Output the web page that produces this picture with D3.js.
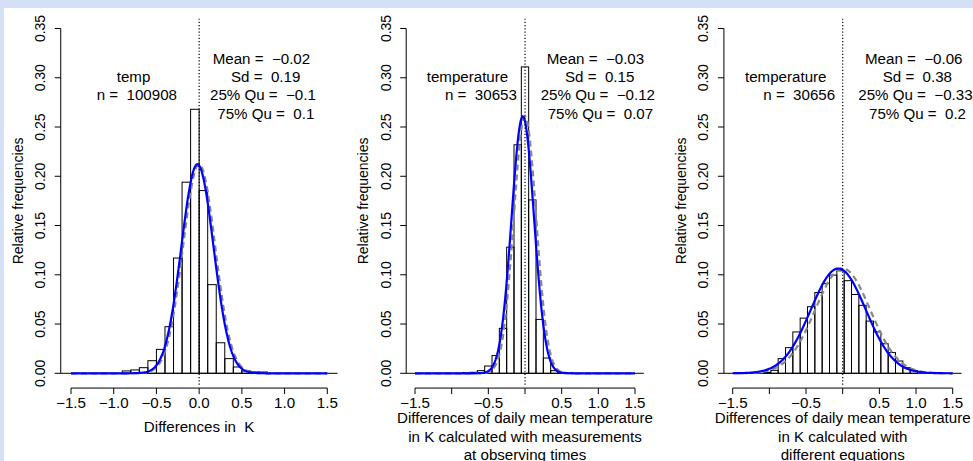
<!DOCTYPE html>
<html>
<head>
<meta charset="utf-8">
<script src="https://cdn.jsdelivr.net/npm/d3@7"></script>
<style>
  body { margin: 0; background: #d4e0f6; }
  svg text { font-family: "Liberation Sans", Arial, sans-serif; font-size: 14px; fill: #000; white-space: pre; }
</style>
</head>
<body>
<svg id="chart" width="973" height="461"></svg>
<script>
// ---- data ----
const xTicks = [-1.5, -1.0, -0.5, 0.0, 0.5, 1.0, 1.5];
const xTicksSparse = [-1.5, -0.5, 0.5, 1.0, 1.5]; // R dropped overlapping labels
const yTicks = [0, 0.05, 0.10, 0.15, 0.20, 0.25, 0.30, 0.35];
const binWidth = 0.1;

// relative frequencies per bin, first break given separately
const freqTemp  = [0.0024, 0.0034, 0.0057, 0.0128, 0.0243, 0.0473, 0.117, 0.194, 0.268,
                   0.1855, 0.090, 0.031, 0.0149, 0.0064, 0.0024, 0.0014, 0.0013];
const freqObs   = [0.0007, 0.001, 0.0027, 0.0074, 0.018, 0.0456, 0.128, 0.232, 0.311,
                   0.176, 0.0547, 0.0155, 0.0027, 0.001, 0.0007];
const freqEqu   = [0.001, 0.003, 0.0149, 0.026, 0.042, 0.056, 0.0676, 0.082, 0.091, 0.0997,
                   0.104, 0.094, 0.080, 0.069, 0.053, 0.042, 0.030, 0.021, 0.0125, 0.0057, 0.0027];
const firstBreaks = [-0.9, -0.85, -1.08];

const varNames = ["temp", "temperature", "temperature"];
const counts   = [100908, 30653, 30656];
const means    = [-0.02, -0.03, -0.06];
const sds      = [0.19, 0.15, 0.38];
const fitSds   = [0.188, 0.153, 0.375]; // unrounded sd
const qu25     = [-0.1, -0.12, -0.33];
const qu75     = [0.1, 0.07, 0.2];
const xTitles  = [
  ["Differences in  K"],
  ["Differences of daily mean temperature", "in K calculated with measurements", "at observing times"],
  ["Differences of daily mean temperature", "in K calculated with", "different equations"]
];

// ---- layout ----
const W = 973, H = 461;
const layout = [
  { x0: 71,    x1: 327.3, statX: [212.7, 231, 210, 217.3], nameX: [116.7, 96.7], ticks: xTicks, titleY: [431.7] },
  { x0: 415,   x1: 635,   statX: [546.7, 565, 540.7, 547.7], nameX: [426.7, 445], ticks: xTicksSparse, titleY: [423.3, 441.7, 460] },
  { x0: 732.7, x1: 952.7, statX: [865, 882.7, 858.3, 869],   nameX: [745, 763.3], ticks: xTicksSparse, titleY: [423.3, 441.7, 460] }
];
const freqs = [freqTemp, freqObs, freqEqu];
const stretch = 1.08; // glyphs in the picture are a little wider than tall

const fmt = d3.format(".2f");
const fmtX = d3.format(".1f");
const minus = v => String(v).replace("-", "\u2212");

const svg = d3.select("#chart");
svg.append("rect").attr("x", 4).attr("y", 8).attr("width", W - 4).attr("height", H - 8).attr("fill", "#fff");

const y = d3.scaleLinear().domain([0, 0.35]).range([373.3, 28.5]);

function hText(g, x, yy, str, anchor) {
  return g.append("text")
    .attr("transform", `translate(${x},${yy}) scale(${stretch},1)`)
    .attr("text-anchor", anchor)
    .text(str);
}

function normalLine(x, mean, sd) {
  const pts = d3.range(-1.5, 1.5001, 0.01).map(v => [v, binWidth * Math.exp(-0.5 * ((v - mean) / sd) ** 2) / (sd * Math.sqrt(2 * Math.PI))]);
  return d3.line().x(d => x(d[0])).y(d => y(d[1]))(pts);
}

layout.forEach((L, p) => {
  const x = d3.scaleLinear().domain([-1.5, 1.5]).range([L.x0, L.x1]);
  const g = svg.append("g");
  const bins = freqs[p].map((f, i) => ({ lo: firstBreaks[p] + i * binWidth, f }));

  // histogram bars
  g.selectAll("rect.bar").data(bins).join("rect")
    .attr("class", "bar")
    .attr("x", d => x(d.lo))
    .attr("width", d => x(d.lo + binWidth) - x(d.lo))
    .attr("y", d => y(d.f))
    .attr("height", d => y(0) - y(d.f))
    .attr("fill", "none")
    .attr("stroke", "#000")
    .attr("stroke-width", 1);

  // zero line across plot region
  g.append("line")
    .attr("x1", x(-1.62)).attr("x2", x(1.62))
    .attr("y1", y(0)).attr("y2", y(0))
    .attr("stroke", "#000").attr("stroke-width", 1);

  // reference normal centred at 0 (grey dashed) and fitted normal (blue)
  g.append("path").attr("d", normalLine(x, 0, fitSds[p]))
    .attr("fill", "none").attr("stroke", "#888").attr("stroke-width", 2.2).attr("stroke-dasharray", "6,4");
  g.append("path").attr("d", normalLine(x, means[p], fitSds[p]))
    .attr("fill", "none").attr("stroke", "#0000ff").attr("stroke-width", 2.2);

  // dotted vertical at 0
  g.append("line")
    .attr("x1", x(0)).attr("x2", x(0))
    .attr("y1", y(0.36)).attr("y2", y(-0.012))
    .attr("stroke", "#000").attr("stroke-width", 1.2).attr("stroke-dasharray", "1.2,2");

  // x axis (R style)
  const axY = y(-0.015);
  g.append("line").attr("x1", x(-1.5)).attr("x2", x(1.5)).attr("y1", axY).attr("y2", axY).attr("stroke", "#000");
  g.selectAll("line.xt").data(xTicks).join("line").attr("class", "xt")
    .attr("x1", d => x(d)).attr("x2", d => x(d)).attr("y1", axY).attr("y2", axY + 6).attr("stroke", "#000");
  L.ticks.forEach(t => hText(g, x(t), axY + 19.5, minus(fmtX(t)), "middle"));

  // y axis
  const axX = x(-1.62);
  g.append("line").attr("x1", axX).attr("x2", axX).attr("y1", y(0)).attr("y2", y(0.35)).attr("stroke", "#000");
  g.selectAll("line.yt").data(yTicks).join("line").attr("class", "yt")
    .attr("x1", axX - 6).attr("x2", axX).attr("y1", d => y(d)).attr("y2", d => y(d)).attr("stroke", "#000");
  yTicks.forEach(t => g.append("text")
    .attr("transform", `translate(${axX - 15.5},${y(t)}) scale(${stretch},1) rotate(-90)`)
    .attr("text-anchor", "middle").text(fmt(t)));

  const midY = (y(-0.014) + y(0.364)) / 2;
  g.append("text")
    .attr("transform", `translate(${axX - 38},${midY}) scale(${stretch},1) rotate(-90)`)
    .attr("text-anchor", "middle").text("Relative frequencies");

  // x title (last line sits at the bottom edge, as in the reference)
  xTitles[p].forEach((s, i) => hText(g, x(0), L.titleY[i], s, "middle"));

  // annotations
  const stats = [
    "Mean =  " + minus(means[p]),
    "Sd =  " + sds[p],
    "25% Qu =  " + minus(qu25[p]),
    "75% Qu =  " + minus(qu75[p])
  ];
  stats.forEach((s, i) => hText(g, L.statX[i], 64 + i * 18.2, s, "start"));
  hText(g, L.nameX[0], 82.2, varNames[p], "start");
  hText(g, L.nameX[1], 100.4, "n =  " + counts[p], "start");
});
</script>
</body>
</html>
